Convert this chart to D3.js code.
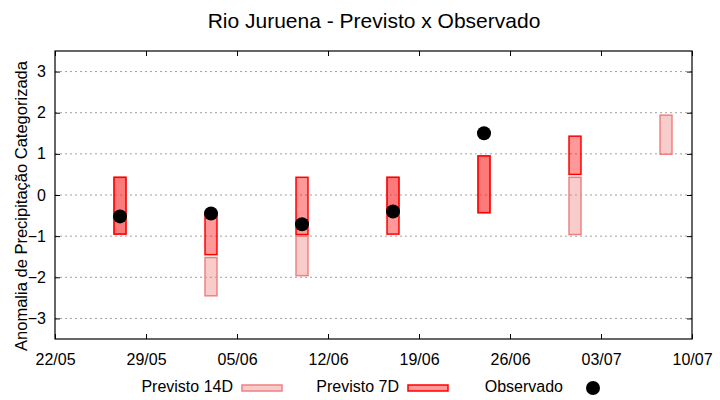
<!DOCTYPE html>
<html>
<head>
<meta charset="utf-8">
<script src="https://cdn.jsdelivr.net/npm/d3@7"></script>
<style>
  body { margin: 0; background: #fff; }
  svg text { font-family: "Liberation Sans", Arial, sans-serif; fill: #000; }
</style>
</head>
<body>
<svg id="chart" width="720" height="400"></svg>
<script>
// forecast windows (categorised anomaly, lower / upper edge)
var dates14 = ['2023-05-27', '2023-06-03', '2023-06-10', '2023-06-17', '2023-06-24', '2023-07-01', '2023-07-08'];
var lo14 = [-0.95, -2.45, -1.96, -0.43, -0.43, -0.96, 0.99];
var hi14 = [0.43, -1.52, -1.0, 0.43, 0.95, 0.43, 1.94];

var dates7 = ['2023-05-27', '2023-06-03', '2023-06-10', '2023-06-17', '2023-06-24', '2023-07-01'];
var lo7 = [-0.95, -1.45, -0.96, -0.95, -0.43, 0.5];
var hi7 = [0.43, -0.45, 0.43, 0.43, 0.95, 1.43];

var datesObs = ['2023-05-27', '2023-06-03', '2023-06-10', '2023-06-17', '2023-06-24'];
var obs = [-0.52, -0.45, -0.71, -0.40, 1.5];

var xTicks = ['2023-05-22', '2023-05-29', '2023-06-05', '2023-06-12', '2023-06-19', '2023-06-26', '2023-07-03', '2023-07-10'];
var yTicks = [-3, -2, -1, 0, 1, 2, 3];

var svg = d3.select('#chart');
// NOTE: 'top' is taken by window.top, so use plot* names
var plotLeft = 55, plotRight = 692, plotTop = 51, plotBottom = 339;
var day = 864e5;
var parse = d3.utcParse('%Y-%m-%d');

var x = d3.scaleUtc()
    .domain([parse(xTicks[0]), parse(xTicks[xTicks.length - 1])])
    .range([plotLeft, plotRight]);
var y = d3.scaleLinear().domain([-3.5, 3.5]).range([plotBottom, plotTop]);

var halfW = 0.46 * day;

// grid
svg.append('g').selectAll('line')
    .data(yTicks)
    .enter().append('line')
    .attr('x1', plotLeft).attr('x2', plotRight)
    .attr('y1', function(d) { return y(d); })
    .attr('y2', function(d) { return y(d); })
    .attr('stroke', '#a0a0a0')
    .attr('stroke-width', 1)
    .attr('stroke-dasharray', '2,3');

function bars(dates, lo, hi, fill, stroke) {
    svg.append('g').selectAll('rect')
        .data(dates)
        .enter().append('rect')
        .attr('x', function(d) { return x(new Date(+parse(d) - halfW)); })
        .attr('width', function(d) { return x(new Date(+parse(d) + halfW)) - x(new Date(+parse(d) - halfW)); })
        .attr('y', function(d, i) { return y(hi[i]); })
        .attr('height', function(d, i) { return y(lo[i]) - y(hi[i]); })
        .attr('fill', fill)
        .attr('stroke', stroke)
        .attr('stroke-width', 1.5);
}

bars(dates14, lo14, hi14, 'rgba(240,128,128,0.4)', '#f08080');
bars(dates7, lo7, hi7, 'rgba(255,0,0,0.4)', '#ff0000');

svg.append('g').selectAll('circle')
    .data(datesObs)
    .enter().append('circle')
    .attr('cx', function(d) { return x(parse(d)); })
    .attr('cy', function(d, i) { return y(obs[i]); })
    .attr('r', 7)
    .attr('fill', '#000');

// frame + ticks
svg.append('rect')
    .attr('x', plotLeft).attr('y', plotTop)
    .attr('width', plotRight - plotLeft).attr('height', plotBottom - plotTop)
    .attr('fill', 'none').attr('stroke', '#000').attr('stroke-width', 1.2);

var tickLen = 5;
var yAxisL = svg.append('g').attr('transform', 'translate(' + plotLeft + ',0)')
    .call(d3.axisLeft(y).tickValues(yTicks).tickSize(-tickLen).tickPadding(tickLen + 4).tickFormat(d3.format('d')));
var yAxisR = svg.append('g').attr('transform', 'translate(' + plotRight + ',0)')
    .call(d3.axisRight(y).tickValues(yTicks).tickSize(-tickLen).tickFormat(''));
var xAxisB = svg.append('g').attr('transform', 'translate(0,' + plotBottom + ')')
    .call(d3.axisBottom(x).tickValues(xTicks.map(parse)).tickSize(-tickLen).tickPadding(tickLen + 10)
        .tickFormat(d3.utcFormat('%d/%m')));
var xAxisT = svg.append('g').attr('transform', 'translate(0,' + plotTop + ')')
    .call(d3.axisTop(x).tickValues(xTicks.map(parse)).tickSize(-tickLen).tickFormat(''));

[yAxisL, yAxisR, xAxisB, xAxisT].forEach(function(a) {
    a.select('.domain').remove();
    a.selectAll('line').attr('stroke', '#000').attr('stroke-width', 1);
    a.selectAll('text').attr('font-size', 16).attr('font-family', '"Liberation Sans", Arial, sans-serif').attr('fill', '#000');
});

// title + y label
svg.append('text')
    .attr('x', 374).attr('y', 28)
    .attr('text-anchor', 'middle')
    .attr('font-size', 21)
    .text('Rio Juruena - Previsto x Observado');

svg.append('text')
    .attr('transform', 'translate(27,206) rotate(-90)')
    .attr('text-anchor', 'middle')
    .attr('font-size', 16.5)
    .text('Anomalia de Precipitação Categorizada');

// legend
var legend = svg.append('g');
legend.append('text').attr('x', 233).attr('y', 392).attr('text-anchor', 'end').attr('font-size', 16).text('Previsto 14D');
legend.append('rect').attr('x', 242).attr('y', 385).attr('width', 40).attr('height', 6)
    .attr('fill', 'rgba(240,128,128,0.4)').attr('stroke', '#f08080').attr('stroke-width', 1.5);
legend.append('text').attr('x', 399).attr('y', 392).attr('text-anchor', 'end').attr('font-size', 16).text('Previsto 7D');
legend.append('rect').attr('x', 408).attr('y', 385).attr('width', 40).attr('height', 6)
    .attr('fill', 'rgba(255,0,0,0.4)').attr('stroke', '#ff0000').attr('stroke-width', 1.5);
legend.append('text').attr('x', 563).attr('y', 392).attr('text-anchor', 'end').attr('font-size', 16).text('Observado');
legend.append('circle').attr('cx', 593).attr('cy', 388).attr('r', 7).attr('fill', '#000');
</script>
</body>
</html>
